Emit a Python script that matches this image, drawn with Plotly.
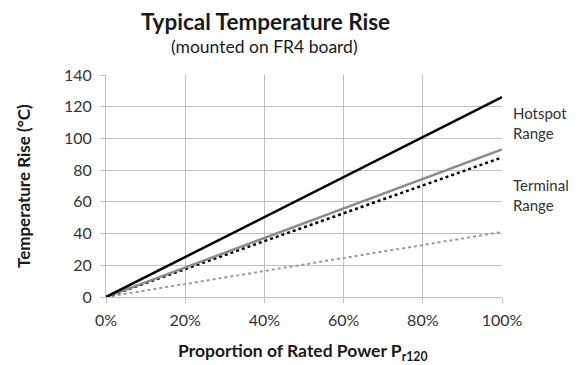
import plotly.graph_objects as go

# Data
power = [0.0, 1.0]  # proportion of rated power
hotspot_max = [0, 126]
hotspot_min = [0, 93]
terminal_max = [0, 88]
terminal_min = [0, 41]
y_ticks = [0, 20, 40, 60, 80, 100, 120, 140]
x_ticks = [0, 0.2, 0.4, 0.6, 0.8, 1.0]
x_tick_labels = ["0%", "20%", "40%", "60%", "80%", "100%"]

FONT = "Lato, 'Open Sans', sans-serif"
OFF = 8  # browser body margin
WIN_W, WIN_H = 580, 365
W, H = WIN_W - OFF, WIN_H - OFF
# plot area in window pixels
PX0, PX1, PY0, PY1 = 106, 502, 75, 297
L, R, T, B = PX0 - OFF, WIN_W - PX1, PY0 - OFF, WIN_H - PY1

fig = go.Figure()
fig.add_trace(go.Scatter(x=power, y=terminal_min, mode="lines",
                         line=dict(color="#9a9a9a", width=2, dash="dot")))
fig.add_trace(go.Scatter(x=power, y=terminal_max, mode="lines",
                         line=dict(color="#000000", width=2.5, dash="dot")))
fig.add_trace(go.Scatter(x=power, y=hotspot_min, mode="lines",
                         line=dict(color="#8c8c8c", width=2.5)))
fig.add_trace(go.Scatter(x=power, y=hotspot_max, mode="lines",
                         line=dict(color="#000000", width=2.5)))

pw, ph = PX1 - PX0, PY1 - PY0

def ax(xw):
    return (xw - PX0) / pw

def ay(yw):
    return 1 - (yw - PY0) / ph

ann = [
    dict(text="<b>Typical Temperature Rise</b>", x=ax(265), y=ay(21),
         font=dict(size=22.5, color="#1a1a1a")),
    dict(text="(mounted on FR4 board)", x=ax(264), y=ay(47),
         font=dict(size=17.5, color="#1a1a1a")),
    dict(text="<b>Temperature Rise (°C)</b>", x=ax(23), y=ay(186),
         font=dict(size=17, color="#1a1a1a"), textangle=-90),
    dict(text="<b>Proportion of Rated Power P<sub>r120</sub></b>", x=ax(303), y=ay(352),
         font=dict(size=17.5, color="#1a1a1a")),
    dict(text="Hotspot<br>Range", x=ax(511), y=ay(123),
         font=dict(size=15, color="#333"), xanchor="left", align="left"),
    dict(text="Terminal<br>Range", x=ax(511), y=ay(195),
         font=dict(size=15, color="#333"), xanchor="left", align="left"),
]
for a in ann:
    a.setdefault("xanchor", "center")
    a.update(xref="paper", yref="paper", yanchor="middle", showarrow=False)
    fig.add_annotation(**a)

fig.update_layout(
    width=W, height=H,
    margin=dict(l=L, r=R, t=T, b=B, pad=0),
    paper_bgcolor="white", plot_bgcolor="white",
    showlegend=False,
    font=dict(family=FONT, size=16, color="#333"),
    xaxis=dict(range=[0, 1], tickvals=x_ticks, ticktext=x_tick_labels,
               showgrid=True, gridcolor="#bfbfbf", gridwidth=1,
               ticks="outside", ticklen=5, tickcolor="#bfbfbf",
               showline=True, linecolor="#bfbfbf", zeroline=False,
               tickfont=dict(size=16, color="#333"), fixedrange=True,
               ticklabelstandoff=4, automargin=False),
    yaxis=dict(range=[0, 140], tickvals=y_ticks,
               showgrid=True, gridcolor="#bfbfbf", gridwidth=1,
               ticks="outside", ticklen=5, tickcolor="#bfbfbf",
               showline=True, linecolor="#bfbfbf", zeroline=False,
               tickfont=dict(size=16, color="#333"), fixedrange=True,
               ticklabelstandoff=5, automargin=False),
)

fig.write_html("out.html")
